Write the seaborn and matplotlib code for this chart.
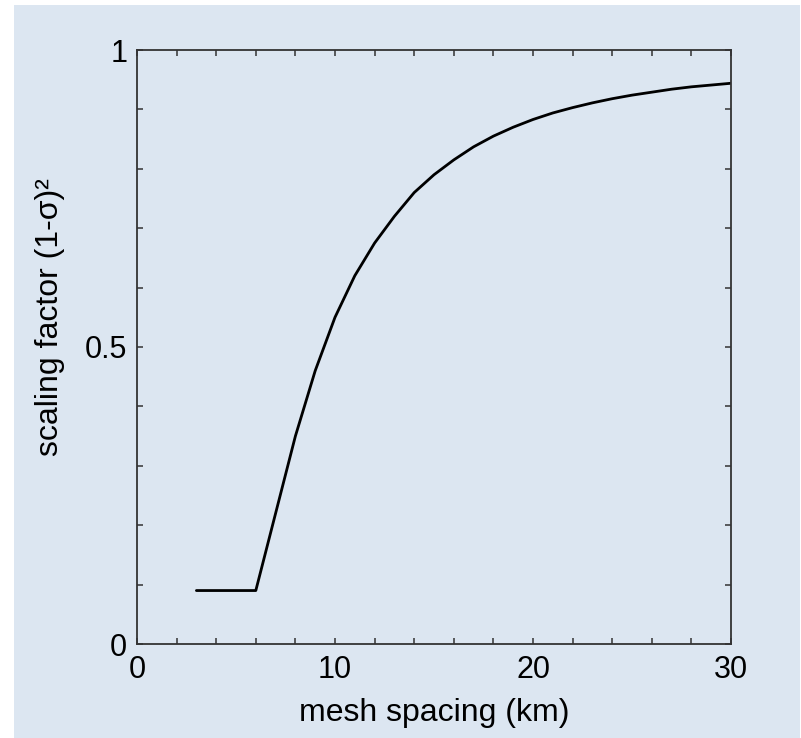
import matplotlib
matplotlib.use("Agg")
import matplotlib.pyplot as plt
from matplotlib.patches import Rectangle
from matplotlib.ticker import MultipleLocator
import seaborn as sns
import pandas as pd

# values
mesh_km = [3, 4, 5, 6, 7, 8, 9, 10, 11, 12, 13, 14, 15, 16, 17, 18, 19, 20,
           21, 22, 23, 24, 25, 26, 27, 28, 29, 30]
scaling = [0.09, 0.09, 0.09, 0.09, 0.22, 0.35, 0.46, 0.55, 0.62, 0.675, 0.72,
           0.76, 0.79, 0.815, 0.837, 0.855, 0.87, 0.883, 0.894, 0.903, 0.911,
           0.918, 0.924, 0.929, 0.934, 0.938, 0.941, 0.944]

x_major = [0, 10, 20, 30]
y_major = [0, 0.5, 1]
y_labels = ["0", "0.5", "1"]

bg = "#dce6f1"
sns.set_style("ticks")
plt.rcParams['font.family'] = ['Liberation Sans', 'DejaVu Sans']
plt.rcParams['text.color'] = 'black'
plt.rcParams['axes.labelcolor'] = 'black'
plt.rcParams['xtick.labelcolor'] = 'black'
plt.rcParams['ytick.labelcolor'] = 'black'

df = pd.DataFrame({"mesh": mesh_km, "scale": scaling})

fig = plt.figure(figsize=(8.01, 7.38), dpi=100, facecolor="white")
fig.add_artist(Rectangle((14 / 801, 0), (801 - 15) / 801, (738 - 5) / 738,
                         transform=fig.transFigure, facecolor=bg,
                         edgecolor="none", zorder=0))
ax = fig.add_axes([137 / 801, 94 / 738, 594 / 801, 594 / 738])
ax.set_facecolor(bg)

sns.lineplot(data=df, x="mesh", y="scale", color="black", linewidth=2.0, ax=ax)

ax.set_xlim(0, 30)
ax.set_ylim(0, 1)
ax.set_xticks(x_major)
ax.set_yticks(y_major)
ax.set_yticklabels(y_labels)
ax.xaxis.set_minor_locator(MultipleLocator(2))
ax.yaxis.set_minor_locator(MultipleLocator(0.1))
ax.tick_params(which="both", direction="in", top=True, right=True,
               length=4, width=1.1, color="#333333", labelcolor="black")
ax.tick_params(axis="x", labelsize=22, pad=8)
ax.tick_params(axis="y", labelsize=22, pad=7)
for s in ax.spines.values():
    s.set_color("#333333")
    s.set_linewidth(1.3)

ax.set_xlabel("mesh spacing (km)", fontsize=23, color="black")
ax.set_ylabel("scaling factor (1-σ)²", fontsize=23, color="black")
ax.xaxis.set_label_coords(0.5, -0.091)
ax.yaxis.set_label_coords(-0.122, 0.55)

fig.savefig("out.png", dpi=100, facecolor="white")
